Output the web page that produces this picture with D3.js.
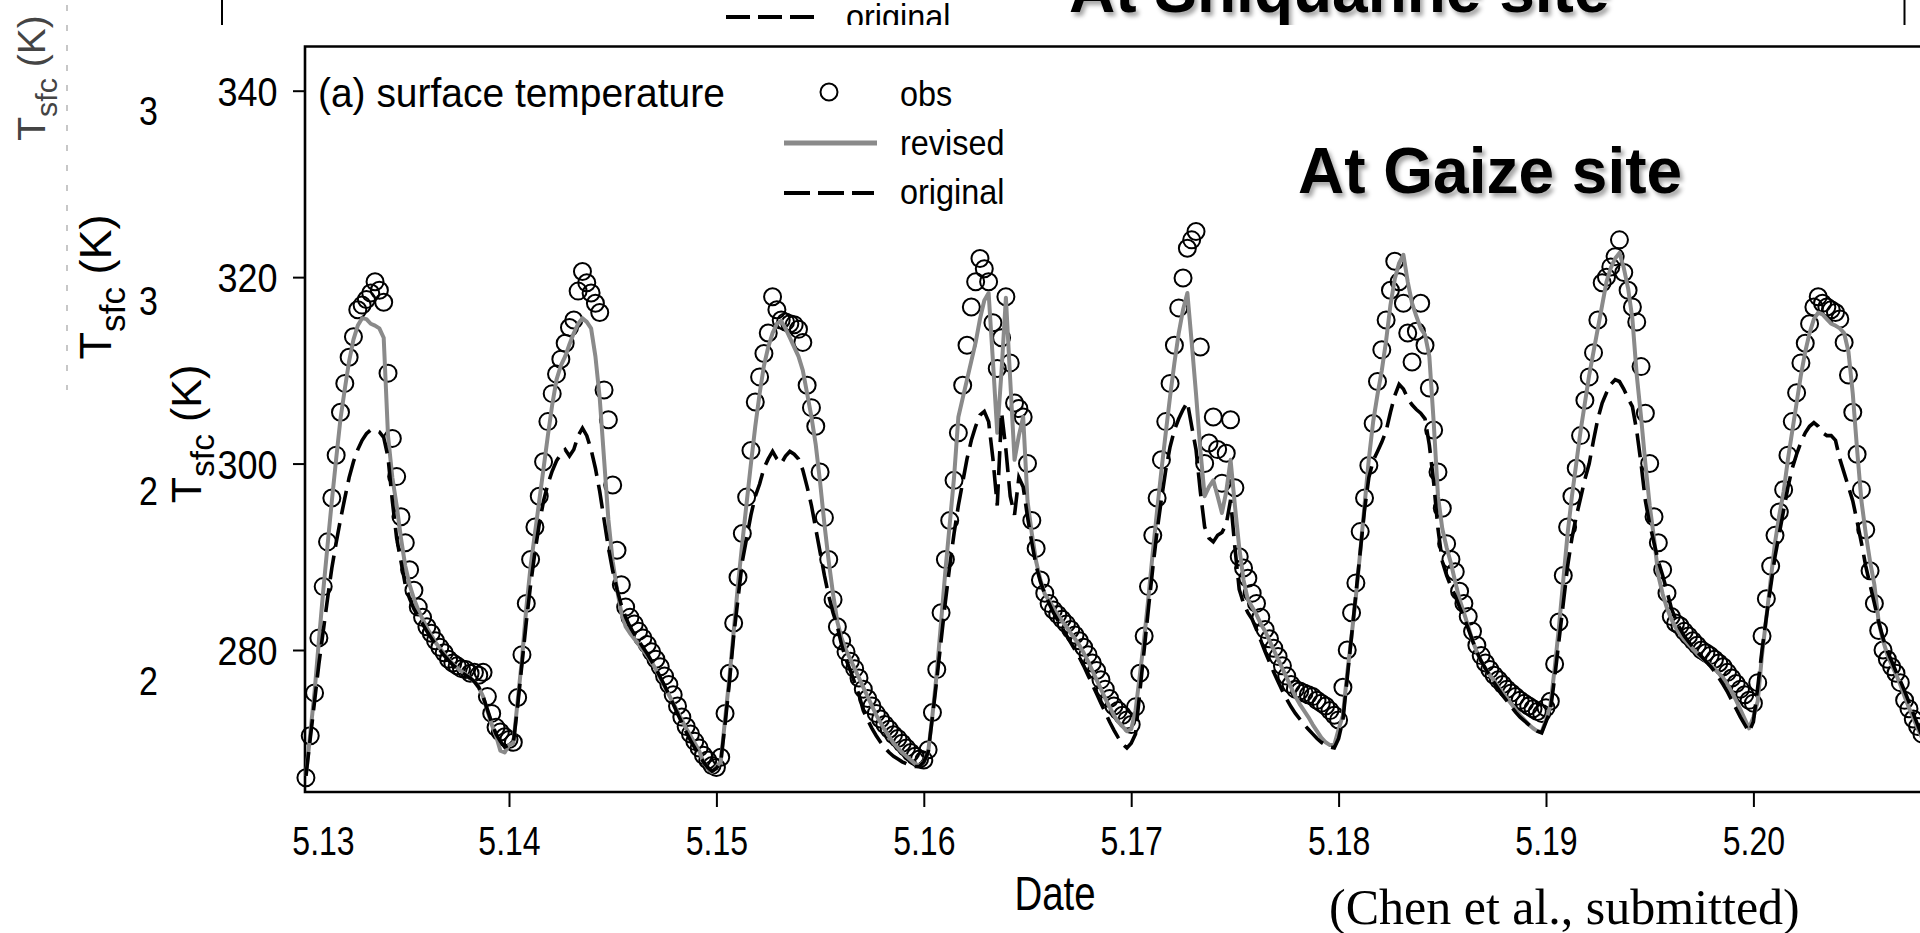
<!DOCTYPE html>
<html>
<head>
<meta charset="utf-8">
<script src="https://cdn.jsdelivr.net/npm/d3@7"></script>
<style>
  body { margin: 0; background: #fff; overflow: hidden; }
  svg { display: block; }
</style>
</head>
<body>
<div class="chart-holder"></div>
<script>
// ---- data: half-hourly values, day 5.13 00:30 onwards ----
const days = [13, 14, 15, 16, 17, 18, 19, 20];
const xTickLabels = ["5.13", "5.14", "5.15", "5.16", "5.17", "5.18", "5.19", "5.20"];
const yTicks = [280, 300, 320, 340];
const behindTicks = [320, 300, 280, 260];
const legendLabels = ["obs", "revised", "original"];

const obs = [
  // 5.13
  266.3, 270.8, 275.4, 281.3, 286.8, 291.6, 296.3, 300.9, 305.5, 308.6, 311.4, 313.6,
  316.5, 317.0, 317.6, 318.3, 319.5, 318.6, 317.3, 309.7, 302.7, 298.6, 294.3, 291.5,
  288.6, 286.4, 284.6, 283.5, 282.5, 281.8, 281.0, 280.3, 279.7, 279.0, 278.6, 278.3,
  278.0, 277.9, 277.5, 277.6, 277.3, 277.6, 275.0, 273.2, 271.7, 271.2, 270.7, 270.4,
  // 5.14
  270.1, 274.9, 279.5, 285.0, 289.7, 293.2, 296.5, 300.2, 304.5, 307.5, 309.6, 311.2,
  312.9, 314.6, 315.4, 318.5, 320.6, 319.4, 318.3, 317.2, 316.2, 307.9, 304.7, 297.7,
  290.7, 287.0, 284.6, 283.5, 282.8, 282.0, 281.3, 280.6, 279.8, 279.0, 278.2, 277.2,
  276.3, 275.2, 274.0, 272.8, 271.8, 271.0, 270.2, 269.5, 268.7, 268.2, 267.6, 267.4,
  // 5.15
  268.5, 273.2, 277.5, 282.9, 287.8, 292.5, 296.4, 301.4, 306.6, 309.3, 311.8, 314.0,
  317.9, 316.5, 315.4, 315.2, 315.0, 314.9, 314.4, 313.0, 308.4, 306.0, 304.0, 299.1,
  294.2, 289.7, 285.4, 282.5, 281.0, 279.8, 278.8, 278.0, 277.0, 275.8, 274.8, 274.0,
  273.2, 272.6, 272.0, 271.5, 270.9, 270.5, 270.0, 269.5, 269.0, 268.6, 268.3, 268.2,
  // 5.16
  269.3, 273.3, 277.9, 284.0, 289.7, 293.9, 298.2, 303.3, 308.4, 312.7, 316.8, 319.5,
  322.0, 320.9, 319.5, 315.1, 310.2, 313.5, 317.9, 310.8, 306.5, 305.9, 305.0, 300.0,
  293.9, 290.9, 287.5, 286.1, 285.0, 284.3, 283.8, 283.3, 282.8, 282.2, 281.6, 281.0,
  280.3, 279.5, 278.6, 277.8, 276.8, 275.8, 274.8, 274.0, 273.5, 273.0, 272.5, 272.0,
  // 5.17
  273.9, 277.5, 281.5, 286.8, 292.3, 296.3, 300.4, 304.5, 308.6, 312.7, 316.7, 319.9,
  323.1, 324.0, 324.9, 312.5, 300.0, 302.2, 305.0, 301.5, 297.9, 301.1, 304.7, 297.4,
  290.0, 288.8, 287.7, 286.1, 285.0, 283.5, 282.2, 281.2, 280.2, 279.3, 278.3, 277.2,
  276.3, 275.8, 275.6, 275.4, 275.2, 275.0, 274.6, 274.3, 274.0, 273.5, 273.0, 272.5,
  // 5.18
  276.0, 280.0, 284.0, 287.2, 292.7, 296.3, 299.8, 304.3, 308.8, 312.2, 315.4, 318.6,
  321.7, 319.5, 317.2, 314.0, 310.9, 314.2, 317.2, 312.7, 308.1, 303.6, 299.1, 295.2,
  291.4, 289.7, 288.4, 286.3, 285.0, 283.6, 282.0, 280.5, 279.4, 278.6, 277.9, 277.3,
  276.8, 276.3, 275.8, 275.4, 275.0, 274.6, 274.3, 274.0, 273.7, 273.4, 273.2, 273.8,
  // 5.19
  274.5, 278.5, 283.0, 288.0, 293.2, 296.5, 299.5, 303.0, 306.8, 309.3, 311.9, 315.4,
  319.4, 320.0, 321.1, 322.2, 324.0, 320.5, 318.6, 316.8, 315.2, 310.4, 305.4, 300.0,
  294.3, 291.5, 288.6, 286.1, 283.6, 282.9, 282.6, 282.0, 281.5, 281.0, 280.5, 280.0,
  279.7, 279.4, 279.0, 278.6, 278.2, 277.6, 277.0, 276.4, 275.8, 275.2, 274.6, 274.3,
  // 5.20
  276.5, 281.5, 285.5, 289.0, 292.3, 294.8, 297.2, 300.9, 304.5, 307.6, 310.8, 312.9,
  315.0, 316.8, 317.9, 317.2, 316.8, 316.5, 316.2, 315.5, 313.0, 309.5, 305.5, 301.0,
  297.2, 292.9, 288.5, 285.0, 282.1, 280.0, 279.0, 278.2, 277.5, 276.5, 274.6, 273.7,
  272.6, 271.8, 271.0
];

const revised = [
  // 5.13
  266.5, 271.0, 275.5, 281.0, 286.3, 291.2, 296.0, 300.5, 304.8, 308.0, 311.0, 313.3,
  314.8, 315.6, 315.5, 315.0, 314.8, 314.5, 313.5, 303.0, 298.5, 295.5, 292.0, 289.0,
  287.0, 285.5, 284.3, 283.3, 282.4, 281.6, 280.8, 280.2, 279.6, 279.0, 278.5, 278.1,
  277.7, 277.4, 277.0, 276.6, 276.0, 275.0, 273.5, 272.0, 270.8, 269.2, 269.0, 269.8,
  // 5.14
  270.0, 274.5, 279.0, 284.5, 289.0, 292.5, 296.0, 299.5, 303.0, 306.3, 309.0, 310.5,
  311.5, 312.8, 314.0, 315.0, 315.6, 315.2, 314.5, 311.5, 307.0, 300.5, 294.0, 289.5,
  286.5, 284.0, 282.5, 281.8, 281.2, 280.6, 280.0, 279.4, 278.7, 277.9, 277.0, 276.1,
  275.2, 274.3, 273.4, 272.5, 271.6, 270.8, 270.0, 269.2, 268.0, 267.3, 266.9, 267.5,
  // 5.15
  268.0, 272.5, 277.0, 282.0, 287.0, 291.5, 295.8, 300.0, 304.0, 307.5, 310.5, 312.5,
  314.0, 315.0, 315.3, 314.5, 313.5, 312.5, 311.5, 310.0, 307.5, 305.0, 302.0, 298.0,
  293.5, 289.5, 286.0, 283.0, 281.2, 280.0, 279.0, 278.0, 277.0, 276.0, 275.0, 274.0,
  273.0, 272.2, 271.4, 270.7, 270.0, 269.5, 269.0, 268.6, 268.2, 267.8, 267.6, 268.0,
  // 5.16
  269.0, 273.0, 277.5, 283.0, 288.5, 293.5, 298.5, 305.0, 307.0, 309.0, 311.0, 313.0,
  315.5, 317.5, 318.3, 311.0, 303.3, 310.0, 317.8, 309.0, 300.4, 303.0, 305.0, 296.0,
  292.5, 289.5, 287.5, 286.0, 285.3, 284.5, 283.8, 283.1, 282.5, 281.8, 281.2, 280.5,
  279.7, 278.8, 277.8, 276.8, 275.8, 274.8, 273.9, 273.0, 272.3, 271.8, 271.3, 271.5,
  // 5.17
  273.5, 277.3, 281.2, 285.7, 290.5, 295.0, 299.3, 303.3, 307.2, 310.8, 314.0, 316.5,
  318.3, 313.0, 307.5, 301.5, 296.5, 297.5, 298.2, 296.5, 294.7, 297.0, 300.4, 295.5,
  291.0, 287.5, 285.4, 284.6, 283.8, 282.8, 282.0, 281.0, 280.0, 279.0, 278.0, 277.0,
  276.0, 275.0, 274.2, 273.5, 272.8, 272.0, 271.3, 270.6, 270.1, 269.8, 269.8, 271.5,
  // 5.18
  273.0, 277.5, 281.5, 285.7, 290.5, 295.5, 300.5, 304.5, 307.4, 310.0, 313.2, 317.0,
  319.8, 321.5, 322.4, 319.5, 317.2, 315.8, 314.5, 313.8, 311.5, 304.5, 296.5, 293.0,
  291.0, 289.3, 287.3, 285.4, 284.0, 282.5, 281.0, 279.8, 278.8, 278.0, 277.3, 276.7,
  276.0, 275.4, 274.8, 274.2, 273.6, 273.0, 272.5, 272.0, 271.6, 271.3, 271.2, 272.5,
  // 5.19
  274.0, 278.0, 282.5, 287.5, 292.5, 296.5, 300.0, 303.5, 306.5, 309.5, 312.0, 314.5,
  317.0, 319.5, 321.0, 322.0, 322.6, 321.0, 318.8, 315.5, 309.5, 305.0, 300.0, 295.5,
  292.0, 288.0, 286.0, 284.5, 283.3, 282.4, 281.7, 281.1, 280.6, 280.1, 279.6, 279.2,
  278.8, 278.4, 278.0, 277.5, 277.0, 276.3, 275.5, 274.6, 273.6, 272.6, 271.6, 272.8,
  // 5.20
  274.5, 279.5, 283.5, 287.5, 291.5, 294.5, 297.0, 300.5, 303.5, 306.5, 309.5, 312.0,
  314.0, 315.5, 316.2, 316.0, 315.5, 315.0, 314.8, 314.5, 314.0, 312.0, 307.5, 301.5,
  296.0, 292.5, 289.5, 287.0, 283.0, 281.0, 279.5, 278.4, 277.4, 276.3, 275.0, 273.8,
  272.7, 271.6, 270.6
];

const original = [
  // 5.13
  266.5, 270.5, 274.5, 278.5, 282.0, 285.5, 288.8, 291.5, 294.0, 296.3, 298.5, 300.2,
  301.5, 302.5, 303.2, 303.6, 303.6, 303.4, 302.8, 300.7, 296.0, 292.0, 289.5, 287.0,
  285.5, 284.4, 283.6, 282.8, 282.0, 281.3, 280.6, 280.0, 279.4, 278.9, 278.4, 278.0,
  277.6, 277.3, 277.0, 276.6, 276.0, 275.0, 273.6, 272.2, 271.0, 270.2, 269.6, 269.8,
  // 5.14
  270.0, 274.0, 278.5, 283.0, 287.0, 290.5, 293.5, 296.0, 297.8, 299.2, 300.3, 301.0,
  301.5, 300.8, 301.5, 303.0, 303.8, 303.0, 301.5, 299.5, 297.0, 294.0, 291.0, 288.5,
  286.5, 284.8, 283.5, 282.5, 281.7, 281.0, 280.3, 279.6, 278.8, 278.0, 277.1, 276.2,
  275.2, 274.2, 273.2, 272.2, 271.2, 270.3, 269.5, 268.7, 268.0, 267.4, 267.0, 267.3,
  // 5.15
  268.0, 272.0, 276.5, 281.5, 285.5, 289.5, 292.0, 294.5, 296.5, 297.8, 299.5, 300.5,
  301.3, 300.5, 300.0, 300.8, 301.3, 301.0, 300.5, 299.3, 297.5, 295.5, 293.0, 290.5,
  288.0, 285.8, 284.0, 282.5, 280.5, 279.0, 277.8, 276.5, 275.2, 273.5, 272.5, 271.6,
  270.8, 270.1, 269.5, 269.0, 268.6, 268.3, 268.0, 267.8, 267.6, 267.5, 267.5, 268.0,
  // 5.16
  269.0, 272.8, 276.8, 281.0, 285.2, 289.0, 292.5, 295.5, 298.0, 300.5, 302.5, 304.0,
  305.2, 305.6, 304.5, 300.5, 295.5, 305.5, 301.5, 296.5, 294.5, 298.5, 297.5, 294.3,
  291.5, 289.0, 287.3, 286.0, 285.0, 284.0, 283.2, 282.4, 281.6, 280.8, 280.0, 279.2,
  278.3, 277.3, 276.3, 275.3, 274.3, 273.3, 272.3, 271.4, 270.6, 269.9, 269.5, 270.0,
  // 5.17
  271.0, 275.5, 280.0, 284.5, 288.8, 292.8, 296.2, 299.3, 301.8, 303.6, 304.8, 305.8,
  306.6, 304.0, 301.5, 297.0, 293.2, 292.0, 291.6, 292.3, 292.6, 293.5, 296.1, 291.0,
  286.5, 285.0, 284.0, 283.3, 282.2, 281.0, 279.8, 278.7, 277.6, 276.6, 275.6, 274.7,
  273.9, 273.2, 272.6, 272.0, 271.5, 271.0, 270.5, 270.1, 269.8, 269.6, 269.5, 270.5,
  // 5.18
  272.5, 277.0, 281.5, 286.0, 290.5, 295.0, 298.5, 300.3, 301.3, 302.3, 303.5, 305.5,
  307.3, 308.5, 308.0, 307.0, 306.3, 305.8, 305.4, 304.8, 302.0, 298.0, 293.0, 289.5,
  288.0, 286.8, 285.8, 284.6, 283.5, 282.3, 281.0, 279.8, 278.8, 278.0, 277.2, 276.5,
  275.8, 275.1, 274.5, 273.9, 273.3, 272.8, 272.4, 272.0, 271.6, 271.3, 271.1, 272.3,
  // 5.19
  273.5, 277.0, 281.0, 285.0, 289.0, 292.0, 294.3, 296.3, 298.3, 300.0, 302.5, 304.8,
  306.5, 307.6, 308.5, 309.0, 308.8, 308.0, 307.0, 306.1, 303.5, 300.0, 296.0, 293.5,
  291.5, 289.5, 288.0, 286.3, 284.5, 283.3, 282.3, 281.5, 280.9, 280.3, 279.8, 279.3,
  278.8, 278.3, 277.7, 277.0, 276.3, 275.5, 274.6, 273.7, 272.8, 272.0, 271.2, 272.3,
  // 5.20
  276.0, 280.0, 283.5, 286.8, 290.0, 292.5, 295.0, 297.5, 299.5, 301.0, 302.3, 303.3,
  304.0, 304.4, 304.0, 303.3, 303.0, 303.0, 302.5, 300.5, 299.0, 297.5, 296.0, 293.8,
  291.5, 289.0, 287.0, 285.0, 283.0, 281.3, 279.9, 278.8, 277.7, 276.7, 275.6, 274.4,
  273.2, 272.0, 270.8
];

// ---- layout ----
const width = 1920, height = 933;
const plotLeft = 305, plotTop = 46.5, plotBottom = 792, plotRight = 1965;
const sans = "'Liberation Sans', Arial, Helvetica, sans-serif";
const serif = "'Liberation Serif', 'Times New Roman', serif";

const x = d3.scaleLinear().domain([13, 21]).range([301.6, 1960.8]);
const y = d3.scaleLinear().domain([280, 340]).range([650, 90.7]);

const svg = d3.select(".chart-holder").append("svg")
  .attr("width", width).attr("height", height);

const defs = svg.append("defs");
const shadow = defs.append("filter").attr("id", "shadow")
  .attr("x", "-5%").attr("y", "-30%").attr("width", "115%").attr("height", "170%");
shadow.append("feDropShadow").attr("dx", 3).attr("dy", 4).attr("stdDeviation", 2)
  .attr("flood-color", "#000").attr("flood-opacity", 0.35);
defs.append("clipPath").attr("id", "behindClip")
  .append("rect").attr("x", 0).attr("y", 0).attr("width", 160).attr("height", height);

// condensed text helper
function txt(g, px, py, str, size, sx, anchor) {
  return g.append("text")
    .attr("transform", `translate(${px},${py}) scale(${sx},1)`)
    .attr("font-family", sans).attr("font-size", size)
    .attr("text-anchor", anchor || "start")
    .attr("fill", "#000")
    .text(str);
}

function tsfcLabel(g, bx, cy, size, color) {
  const t = g.append("text")
    .attr("transform", `translate(${bx},${cy}) rotate(-90)`)
    .attr("font-family", sans).attr("font-size", size)
    .attr("text-anchor", "middle").attr("fill", color);
  t.append("tspan").text("T");
  t.append("tspan").attr("font-size", size * 0.78).attr("dy", size * 0.3).text("sfc");
  t.append("tspan").attr("dy", -size * 0.3).text(" (K)");
  return t;
}

// ---- layers of the slide behind this panel ----
const back = svg.append("g");
back.append("line").attr("x1", 67).attr("x2", 67).attr("y1", 5).attr("y2", 390)
  .attr("stroke", "#b5b5b5").attr("stroke-width", 1.5).attr("stroke-dasharray", "6 14");
tsfcLabel(back, 45, 78, 39, "#444");

back.append("line").attr("x1", 726).attr("x2", 815).attr("y1", 17).attr("y2", 17)
  .attr("stroke", "#000").attr("stroke-width", 4).attr("stroke-dasharray", "24 8");
txt(back, 846, 29, "original", 36, 0.9);
back.selectAll("line.upframe").data([222, 1904.5]).join("line").attr("class", "upframe")
  .attr("x1", d => d).attr("x2", d => d).attr("y1", 0).attr("y2", 25)
  .attr("stroke", "#000").attr("stroke-width", 2);
back.append("text").attr("x", 1069).attr("y", 12)
  .attr("font-family", sans).attr("font-weight", "bold").attr("font-size", 64)
  .attr("filter", "url(#shadow)").text("At Shiquanhe site");

const mid = svg.append("g");
tsfcLabel(mid, 111, 287, 45, "#000");
const yBehind = d3.scaleLinear().domain([320, 260]).range([110, 680]);
const midTicks = mid.append("g").attr("clip-path", "url(#behindClip)");
behindTicks.forEach(v => txt(midTicks, 139, yBehind(v) + 14.5, String(v), 40, 0.85));

// ---- this panel ----
svg.append("rect").attr("x", 157).attr("y", 25).attr("width", width).attr("height", height)
  .attr("fill", "#fff");
const main = svg.append("g");

tsfcLabel(main, 201, 434, 43, "#000");

const yAxisG = main.append("g").attr("transform", `translate(${plotLeft},0)`)
  .call(d3.axisLeft(y).tickValues(yTicks).tickSize(12).tickFormat(d3.format("d")));
yAxisG.attr("font-family", sans).attr("font-size", 40);
yAxisG.select(".domain").remove();
yAxisG.selectAll(".tick line").attr("stroke", "#000").attr("stroke-width", 2);
yAxisG.selectAll(".tick text").attr("x", 0).attr("dy", null).attr("fill", "#000")
  .attr("transform", "translate(-27.5,14.5) scale(0.9,1)");

const xAxisG = main.append("g").attr("transform", `translate(0,${plotBottom})`)
  .call(d3.axisBottom(x).tickValues(days).tickSize(15)
    .tickFormat(d => xTickLabels[days.indexOf(d)]));
xAxisG.attr("font-family", sans).attr("font-size", 40);
xAxisG.select(".domain").remove();
xAxisG.selectAll(".tick line").attr("stroke", "#000").attr("stroke-width", 2)
  .filter(d => x(d) < plotLeft).remove();
xAxisG.selectAll(".tick text").attr("y", 0).attr("dy", null).attr("fill", "#000")
  .attr("transform", d => `translate(${x(d) < plotLeft ? plotLeft + 18 - x(d) : 0},63) scale(0.8,1)`);

// frame (its right side lies beyond the window)
main.append("path")
  .attr("d", `M${plotRight},${plotTop}H${plotLeft}V${plotBottom}H${plotRight}`)
  .attr("fill", "none").attr("stroke", "#000").attr("stroke-width", 2.6);

// ---- series ----
const series = obs.map((v, k) => ({
  t: days[0] + (k + 1) / 48, obs: v, rev: revised[k], org: original[k]
}));

main.append("g").selectAll("circle").data(series).join("circle")
  .attr("cx", d => x(d.t)).attr("cy", d => y(d.obs)).attr("r", 8.5)
  .attr("fill", "none").attr("stroke", "#000").attr("stroke-width", 2);

main.append("path").datum(series)
  .attr("d", d3.line().x(d => x(d.t)).y(d => y(d.rev)))
  .attr("fill", "none").attr("stroke", "#8a8a8a").attr("stroke-width", 4)
  .attr("stroke-linejoin", "round");

main.append("path").datum(series)
  .attr("d", d3.line().x(d => x(d.t)).y(d => y(d.org)))
  .attr("fill", "none").attr("stroke", "#000").attr("stroke-width", 3.6)
  .attr("stroke-dasharray", "24 9");

// ---- legend ----
const leg = main.append("g");
leg.append("circle").attr("cx", 829).attr("cy", 92).attr("r", 8.5)
  .attr("fill", "none").attr("stroke", "#000").attr("stroke-width", 2);
leg.append("line").attr("x1", 784).attr("x2", 877).attr("y1", 143).attr("y2", 143)
  .attr("stroke", "#8a8a8a").attr("stroke-width", 5);
leg.append("line").attr("x1", 784).attr("x2", 874).attr("y1", 193).attr("y2", 193)
  .attr("stroke", "#000").attr("stroke-width", 4).attr("stroke-dasharray", "26 8");
legendLabels.forEach((s, i) => txt(leg, 900, 106 + i * 49, s, 36, 0.9));

txt(main, 318, 107, "(a) surface temperature", 41, 0.95);

main.append("text").attr("x", 1298).attr("y", 193)
  .attr("font-family", sans).attr("font-weight", "bold").attr("font-size", 64)
  .attr("filter", "url(#shadow)").text("At Gaize site");

txt(main, 1055, 910, "Date", 48, 0.8, "middle");

main.append("text").attr("x", 1329).attr("y", 924)
  .attr("font-family", serif).attr("font-size", 50)
  .text("(Chen et al., submitted)");
</script>
</body>
</html>
